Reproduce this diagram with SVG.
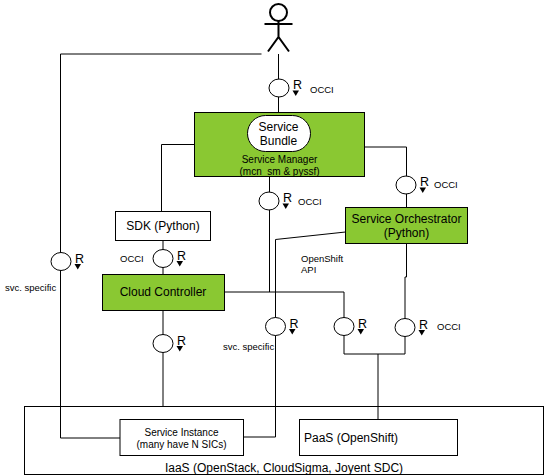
<svg xmlns="http://www.w3.org/2000/svg" width="545" height="476" viewBox="0 0 545 476">
<defs>
<g id="iface">
<ellipse cx="0" cy="0" rx="10" ry="9" fill="#fff" stroke="#000" stroke-width="1"/>
<text x="14" y="1" class="r">R</text>
<path d="M13.500 2.500H20L16.750 8Z" fill="#000"/>
</g>
</defs>
<style>
text{font-family:"Liberation Sans",Arial,sans-serif;fill:#000}
.r{font-size:12.500px}
.s{font-size:9.500px}
.m{font-size:12px;text-anchor:middle}
.t{font-size:10px;text-anchor:middle}
.box{stroke:#000;stroke-width:1;fill:#fff}
.g{stroke:#000;stroke-width:1;fill:#8ac832}
.c{fill:none;stroke:#000;stroke-width:1}
</style>
<rect width="545" height="476" fill="#fff"/>
<g id="iaas"><rect class="box" x="24.500" y="406.500" width="519" height="68"/><text class="m" x="284" y="472">IaaS (OpenStack, CloudSigma, Joyent SDC)</text></g>
<g id="connectors">
<path class="c" d="M278.500 54V112.500"/>
<path class="c" d="M194.500 144.500H161.500V212"/>
<path class="c" d="M364.500 147H406.500V207.500"/>
<path class="c" d="M269.500 176V292"/>
<path class="c" d="M224.500 292H344V354H405V277H406.500V243.500"/>
<path class="c" d="M378 354V419.500"/>
<path class="c" d="M345.500 232L275.500 239.500V437H243.500"/>
<path class="c" d="M120 438H60.500V54H261.500"/>
<path class="c" d="M163 310.500V406.500"/>
<path class="c" d="M163 240.500V274.500"/>
</g>
<g id="actor" fill="none" stroke="#000" stroke-width="2"><circle cx="278.500" cy="12.500" r="8.500"/><path d="M278.500 21V37M264.500 24H292.500M268 51.500L278.500 37L289 51.500"/></g>
<g id="service-manager"><rect class="g" x="194.500" y="112.500" width="170" height="64"/><text class="t" x="279.500" y="163">Service Manager</text><text class="t" x="279.500" y="175">(mcn_sm &amp; pyssf)</text></g>
<g id="service-bundle"><rect class="box" x="247.500" y="115.500" width="63" height="36" rx="18" ry="18"/><text class="m" x="278.500" y="131">Service</text><text class="m" x="278.500" y="145">Bundle</text></g>
<g id="sdk"><rect class="box" x="115.500" y="211.500" width="95" height="29"/><text class="m" x="163" y="230">SDK (Python)</text></g>
<g id="service-orchestrator"><rect class="g" x="345.500" y="207.500" width="122" height="36"/><text class="m" x="406.500" y="223">Service Orchestrator</text><text class="m" x="406.500" y="237">(Python)</text></g>
<g id="cloud-controller"><rect class="g" x="102.500" y="274.500" width="122" height="36"/><text class="m" x="163" y="296">Cloud Controller</text></g>
<g id="service-instance"><rect class="box" x="120" y="419.500" width="123.500" height="36"/><text class="t" x="181.500" y="436">Service Instance</text><text class="t" x="181.500" y="448">(many have N SICs)</text></g>
<g id="paas"><rect class="box" x="299.500" y="419.500" width="158" height="36"/><text x="304" y="442" style="font-size:12px">PaaS (OpenShift)</text></g>
<g id="if-user"><use href="#iface" x="279" y="88"/><text class="s" x="310" y="93">OCCI</text></g>
<g id="if-manager"><use href="#iface" x="269" y="201"/><text class="s" x="298" y="205">OCCI</text></g>
<g id="if-orch"><use href="#iface" x="406" y="185"/><text class="s" x="434" y="188">OCCI</text></g>
<g id="if-svc-left"><use href="#iface" x="61" y="261.500"/><text class="s" x="5" y="291">svc. specific</text></g>
<g id="if-sdk"><use href="#iface" x="163" y="258.500"/><text class="s" x="120" y="262">OCCI</text></g>
<g id="if-cc"><use href="#iface" x="163" y="343.500"/></g>
<g id="if-svc-mid"><use href="#iface" x="275.500" y="326.500"/><text class="s" x="223" y="350">svc. specific</text></g>
<g id="if-paas"><use href="#iface" x="344" y="326.500"/></g>
<g id="if-occi"><use href="#iface" x="405" y="327.500"/><text class="s" x="437" y="330">OCCI</text></g>
<g id="label-openshift"><text class="s" x="301" y="262">OpenShift</text><text class="s" x="301" y="273">API</text></g>
</svg>
